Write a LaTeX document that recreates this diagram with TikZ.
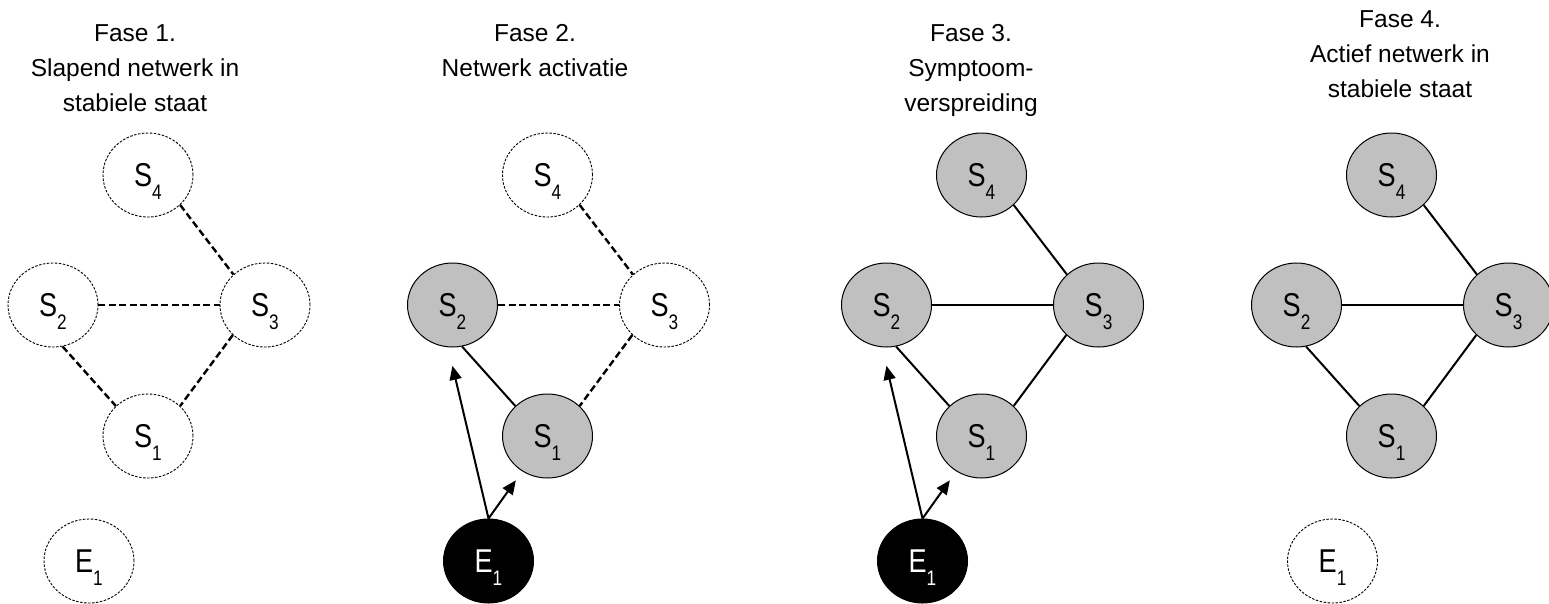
\documentclass[tikz,border=0pt]{standalone}
\usepackage{fontspec}
\setmainfont{Liberation Sans}
\newfontfamily\narrowsans{Liberation Sans}[FakeStretch=0.82]
\usetikzlibrary{shapes.geometric,arrows.meta}
\definecolor{actgray}{RGB}{192,192,192}
\newcommand\nlab[2]{{\narrowsans\fontsize{33}{33}\selectfont #1\smash{\raisebox{-12.7pt}{\fontsize{21}{21}\selectfont #2}}}}
\tikzset{
  ellnode/.style={ellipse, minimum width=90pt, minimum height=84pt, inner sep=0pt},
  sleepnode/.style={ellnode, draw, line width=0.9pt, dash pattern=on 2.5pt off 1.5pt, fill=white},
  activenode/.style={ellnode, draw, line width=1pt, fill=actgray},
  triggernode/.style={ellnode, draw, line width=1pt, fill=black, text=white},
  latentline/.style={line width=2.4pt, dash pattern=on 7pt off 3.5pt},
  activeline/.style={line width=2pt},
  arrowline/.style={line width=2pt, -{Triangle[length=14pt,width=12pt]}},
  titlenode/.style={anchor=north, inner sep=0pt, align=center, font=\fontsize{24.5}{35}\selectfont},
}
\begin{document}
\begin{tikzpicture}[x=1pt,y=-1pt]
\path[use as bounding box, fill=white] (0,0) rectangle (1549,603);

% ---------- Fase 1 ----------
\node[titlenode] (t1) at (135,24.5) {Fase 1.\\Slapend netwerk in\\stabiele staat};
\node[sleepnode] (p1s4) at (148,175) {\nlab{S}{4}};
\node[sleepnode] (p1s2) at (53,305) {\nlab{S}{2}};
\node[sleepnode] (p1s3) at (265,305) {\nlab{S}{3}};
\node[sleepnode] (p1s1) at (148,436) {\nlab{S}{1}};
\node[sleepnode] (p1e1) at (89,561) {\nlab{E}{1}};
\draw[latentline] (p1s4.-43) -- (p1s3.136);
\draw[latentline] (p1s2) -- (p1s3);
\draw[latentline] (p1s2.-77) -- (p1s1.137);
\draw[latentline] (p1s3.-137) -- (p1s1.43);

% ---------- Fase 2 ----------
\node[titlenode] (t2) at (535,24.5) {Fase 2.\\Netwerk activatie};
\node[sleepnode] (p2s4) at (547.5,175) {\nlab{S}{4}};
\node[activenode] (p2s2) at (452.5,305) {\nlab{S}{2}};
\node[sleepnode] (p2s3) at (664.5,305) {\nlab{S}{3}};
\node[activenode] (p2s1) at (547.5,436) {\nlab{S}{1}};
\node[triggernode] (p2e1) at (488.5,561) {\nlab{E}{1}};
\draw[latentline] (p2s4.-43) -- (p2s3.136);
\draw[latentline] (p2s2) -- (p2s3);
\draw[activeline] (p2s2.-77) -- (p2s1.137);
\draw[latentline] (p2s3.-137) -- (p2s1.43);
\draw[arrowline, shorten >=19pt] (p2e1.north) -- (p2s2.-96);
\draw[arrowline, shorten >=11pt] (p2e1.north) -- (p2s1);

% ---------- Fase 3 ----------
\node[titlenode] (t3) at (971,24.5) {Fase 3.\\Symptoom-\\verspreiding};
\node[activenode] (p3s4) at (981.5,175) {\nlab{S}{4}};
\node[activenode] (p3s2) at (886.5,305) {\nlab{S}{2}};
\node[activenode] (p3s3) at (1098.5,305) {\nlab{S}{3}};
\node[activenode] (p3s1) at (981.5,436) {\nlab{S}{1}};
\node[triggernode] (p3e1) at (922.5,561) {\nlab{E}{1}};
\draw[activeline] (p3s4.-43) -- (p3s3.136);
\draw[activeline] (p3s2) -- (p3s3);
\draw[activeline] (p3s2.-77) -- (p3s1.137);
\draw[activeline] (p3s3.-137) -- (p3s1.43);
\draw[arrowline, shorten >=19pt] (p3e1.north) -- (p3s2.-96);
\draw[arrowline, shorten >=11pt] (p3e1.north) -- (p3s1);

% ---------- Fase 4 ----------
\node[titlenode] (t4) at (1400,10.5) {Fase 4.\\Actief netwerk in\\stabiele staat};
\node[activenode] (p4s4) at (1391.5,175) {\nlab{S}{4}};
\node[activenode] (p4s2) at (1296.5,305) {\nlab{S}{2}};
\node[activenode] (p4s3) at (1508.5,305) {\nlab{S}{3}};
\node[activenode] (p4s1) at (1391.5,436) {\nlab{S}{1}};
\node[sleepnode] (p4e1) at (1332.5,561) {\nlab{E}{1}};
\draw[activeline] (p4s4.-43) -- (p4s3.136);
\draw[activeline] (p4s2) -- (p4s3);
\draw[activeline] (p4s2.-77) -- (p4s1.137);
\draw[activeline] (p4s3.-137) -- (p4s1.43);
\end{tikzpicture}
\end{document}
